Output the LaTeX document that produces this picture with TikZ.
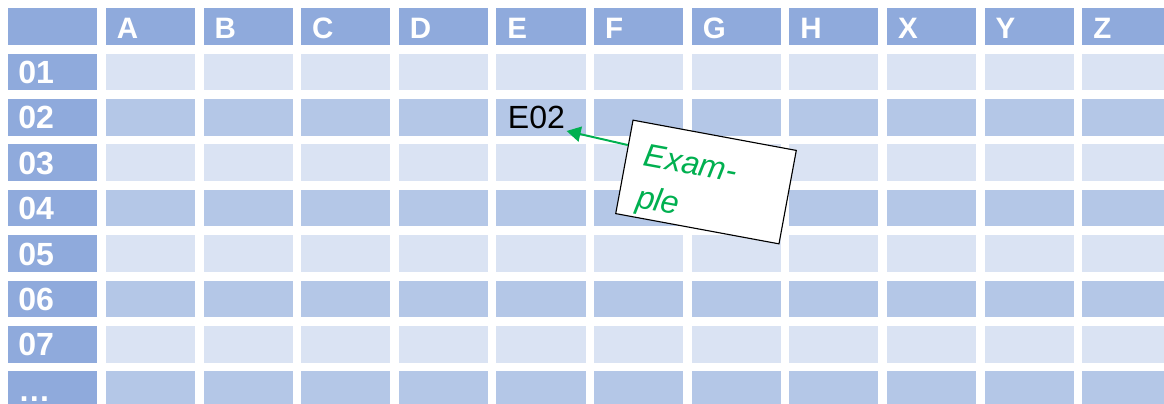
\documentclass[tikz,border=0pt]{standalone}
\usepackage{fontspec}
\setmainfont{Liberation Sans}
\usetikzlibrary{positioning}
\usetikzlibrary{arrows.meta}
\usetikzlibrary{calc}
\usepackage{xcolor}

\definecolor{headblue}{HTML}{8FAADC}
\definecolor{rowdark}{HTML}{B4C7E7}
\definecolor{rowlight}{HTML}{DAE3F3}
\definecolor{exgreen}{HTML}{00B050}

\begin{document}
\begin{tikzpicture}[x=0.025cm, y=-0.025cm,
  cell/.style={fill=#1, minimum width=2.225cm, minimum height=0.915cm, inner sep=0pt, anchor=north west},
  headlab/.style={text=white, inner sep=0pt, anchor=base west, font=\bfseries\fontsize{21}{25}\selectfont},
  rowlab/.style={text=white, inner sep=0pt, anchor=base west, font=\bfseries\fontsize{22.8}{27}\selectfont},
  note/.style={draw=black, thick, fill=white, rotate=-10.5, minimum width=4.15cm, minimum height=2.375cm,
    inner xsep=0.45cm, inner ysep=0pt, text width=3.25cm, align=left, text=exgreen, font=\itshape\fontsize{23}{30}\selectfont}]

\useasboundingbox (0,0) rectangle (1164,403);
\clip (0,0) rectangle (1164,403);

% the table
\foreach \j in {0,...,8}{
  \foreach \i in {0,...,11}{
    \ifnum\j=0 \def\cc{headblue}\else\ifnum\i=0 \def\cc{headblue}\else\ifodd\j \def\cc{rowlight}\else\def\cc{rowdark}\fi\fi\fi
    \node[cell=\cc] (c-\i-\j) at ({8+\i*97.64},{8+\j*45.4}) {};
  }
}

% column names
\foreach \lab [count=\i] in {A,B,C,D,E,F,G,H,X,Y,Z}
  \node[headlab] (h-\lab) at ([xshift=0.275cm, yshift=-0.3cm]c-\i-0.west) {\lab};

% row names
\foreach \lab [count=\j] in {01,02,03,04,05,06,07,…}
  \node[rowlab] (r-\j) at ([xshift=0.25cm, yshift=-0.29cm]c-0-\j.west) {\lab};

\node[anchor=base west, inner sep=1pt, font=\fontsize{22.8}{27}\selectfont] (E02) at ([xshift=0.25cm, yshift=-0.29cm]c-5-2.west) {E02};

\node[note] (ex) at (706,182) {\rule{0pt}{1cm}Exam-\\ple};

\draw[exgreen, line width=1.4pt, -{Triangle[length=0.35cm, width=0.38cm]}] ($(ex.north west)!0.27!(ex.south west)$) -- (E02.south east);

\end{tikzpicture}
\end{document}
